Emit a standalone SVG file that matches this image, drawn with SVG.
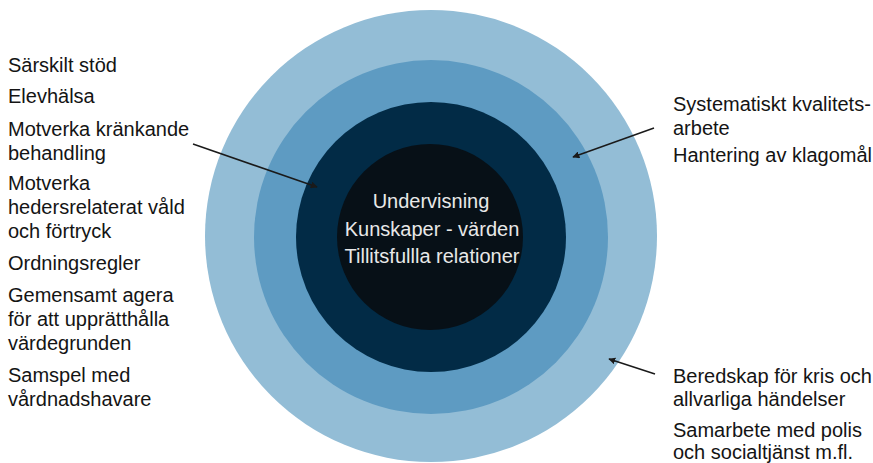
<svg xmlns="http://www.w3.org/2000/svg" width="873" height="463" viewBox="0 0 873 463">
<defs>
<style>
text{font-family:"Liberation Sans",Arial,sans-serif;font-size:20px;fill:#141414}
.c text{fill:#e8e8e8;text-anchor:middle}
.conn line{stroke:#1a1a1a;stroke-width:1.5;fill:none}
</style>
<marker id="ah" viewBox="0 0 10 10" refX="9" refY="5" markerWidth="7" markerHeight="7" markerUnits="userSpaceOnUse" orient="auto">
<path d="M0,0 L10,5 L0,10 z" fill="#1a1a1a"/>
</marker>
</defs>
<rect width="873" height="463" fill="#ffffff"/>
<g id="rings">
<circle cx="431" cy="236" r="226" fill="#93bdd6"/>
<circle cx="431" cy="237" r="177" fill="#5e9bc2"/>
<circle cx="431" cy="237" r="135" fill="#022b46"/>
<circle cx="430" cy="237" r="93" fill="#071017"/>
</g>
<g id="center" class="c">
<text x="431" y="208">Undervisning</text>
<text x="432" y="236">Kunskaper - värden</text>
<text x="432" y="263">Tillitsfullla relationer</text>
</g>
<g id="left">
<text x="8" y="72">Särskilt stöd</text>
<text x="8" y="103">Elevhälsa</text>
<text x="8" y="136">Motverka kränkande</text>
<text x="8" y="160">behandling</text>
<text x="8" y="190">Motverka</text>
<text x="8" y="214">hedersrelaterat våld</text>
<text x="8" y="238">och förtryck</text>
<text x="8" y="270">Ordningsregler</text>
<text x="8" y="302">Gemensamt agera</text>
<text x="8" y="326">för att upprätthålla</text>
<text x="8" y="350">värdegrunden</text>
<text x="8" y="382">Samspel med</text>
<text x="8" y="406">vårdnadshavare</text>
</g>
<g id="right">
<text x="673" y="111">Systematiskt kvalitets-</text>
<text x="673" y="135">arbete</text>
<text x="673" y="162">Hantering av klagomål</text>
<text x="673" y="383">Beredskap för kris och</text>
<text x="673" y="406">allvarliga händelser</text>
<text x="673" y="437">Samarbete med polis</text>
<text x="673" y="459">och socialtjänst m.fl.</text>
</g>
<g id="connectors" class="conn">
<line x1="193" y1="144" x2="317" y2="187" marker-end="url(#ah)"/>
<line x1="654" y1="128" x2="573" y2="157" marker-end="url(#ah)"/>
<line x1="655" y1="374" x2="609" y2="359" marker-end="url(#ah)"/>
</g>
</svg>
